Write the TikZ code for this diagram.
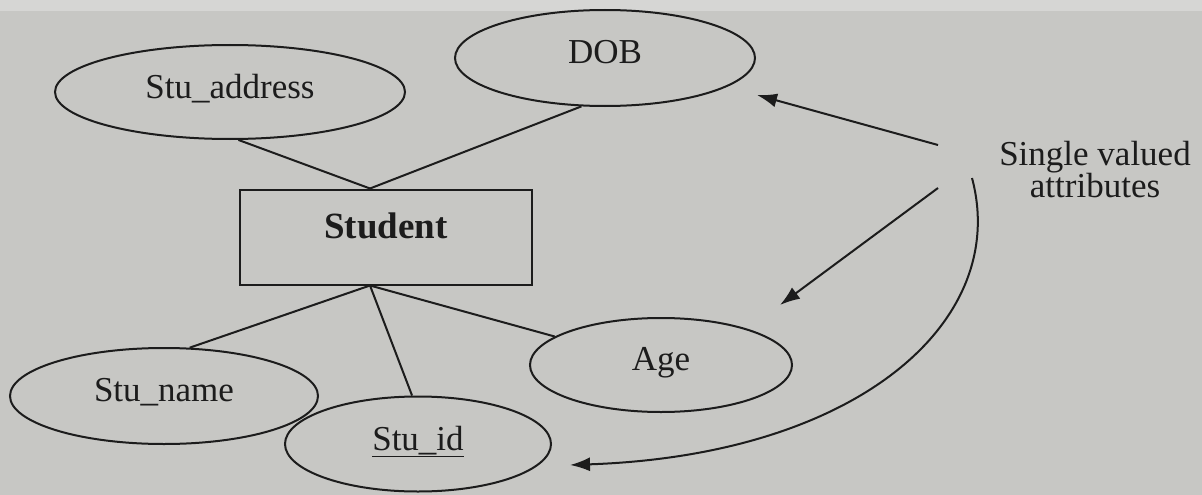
\documentclass[tikz,border=0pt]{standalone}
\usepackage{fontspec}
\setmainfont{Liberation Serif}
\usepackage{tikz}
\usetikzlibrary{arrows.meta,shapes.geometric,calc}
\definecolor{pagegrey}{RGB}{199,199,196}
\definecolor{stripgrey}{RGB}{214,214,212}
\definecolor{inkblack}{RGB}{28,28,28}
\newcommand{\attrfont}{\fontsize{35}{32}\selectfont}

\begin{document}
\begin{tikzpicture}[x=1pt,y=-1pt,
    attr/.style={ellipse,draw=inkblack,line width=2pt,inner sep=0pt,text depth=12pt,
                 text=inkblack,font=\attrfont},
    entity/.style={rectangle,draw=inkblack,line width=2pt,minimum width=292pt,minimum height=95pt,
                   inner sep=0pt,text depth=22pt,text=inkblack,font=\bfseries\fontsize{37}{36}\selectfont},
    link/.style={inkblack,line width=2pt},
    pointer/.style={inkblack,line width=2pt,-{Latex[length=20pt,width=14pt]}}]
  \fill[pagegrey] (0,0) rectangle (1202,495);
  \fill[stripgrey] (0,0) rectangle (1202,11);
  \useasboundingbox (0,0) rectangle (1202,495);
  \node[attr,minimum width=350pt,minimum height=94pt] (addr) at (230,92) {Stu\_address};
  \node[attr,minimum width=300pt,minimum height=96pt] (dob) at (605,58) {DOB};
  \node[entity] (stu) at (386,237) {Student};
  \node[attr,minimum width=308pt,minimum height=96pt] (sname) at (164,396) {Stu\_name};
  \node[attr,minimum width=266pt,minimum height=95pt] (sid) at (418,444) {\underline{Stu\_id}};
  \node[attr,minimum width=262pt,minimum height=94pt] (age) at (661,365) {Age};
  \node[align=center,text=inkblack,font=\attrfont] (single) at (1095,170) {Single valued\\attributes};
  \coordinate (topjoin) at ($(stu.north)+(-16,0)$);
  \coordinate (botjoin) at ($(stu.south)+(-16,0)$);
  \foreach \a in {addr.-80,dob.-116}
    \draw[link] (topjoin) -- (\a);
  \foreach \a in {sname.62,sid.97,age.165}
    \draw[link] (botjoin) -- (\a);
  \coordinate (fromdob) at (938,145);
  \coordinate (fromage) at (938,188);
  \coordinate (fromid) at (972,178);
  \coordinate (tipdob) at (757,95);
  \coordinate (tipage) at (780,305);
  \coordinate (tipid) at (570,465);
  \draw[pointer] (fromdob) -- (tipdob);
  \draw[pointer] (fromage) -- (tipage);
  \draw[pointer] (fromid) .. controls (1010,320) and (860,455) .. (tipid);
\end{tikzpicture}
\end{document}
